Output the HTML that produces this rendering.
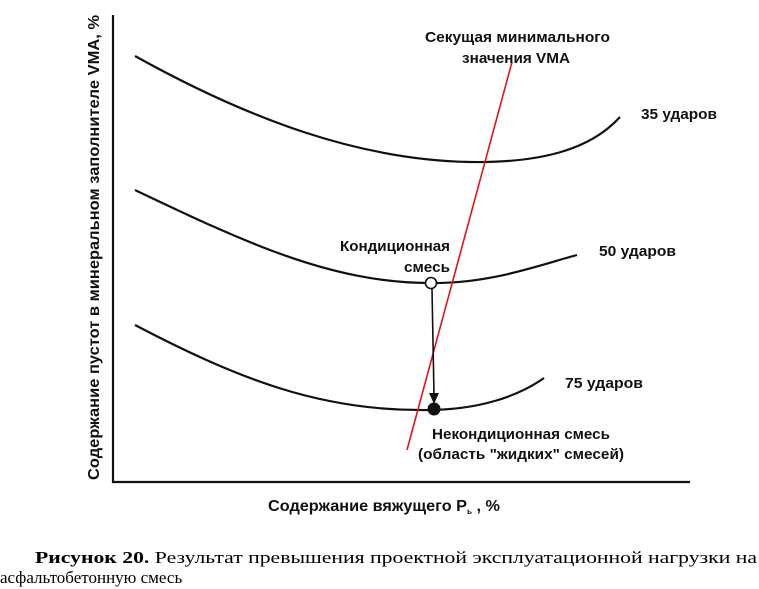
<!DOCTYPE html>
<html><head><meta charset="utf-8"><style>
html,body{margin:0;padding:0;background:#fff;}
svg{display:block;}
</style></head><body>
<svg width="759" height="589" viewBox="0 0 759 589" xmlns="http://www.w3.org/2000/svg">
<g fill="none" stroke="#111" stroke-width="2.2">
<path d="M113 15 L113 482 L690 482"/>
<path d="M135 56 C250 120 360 160 470 162 C540 163 590 150 620 117"/>
<path d="M135 190 C240 240 330 283 430 283 C490 284 540 265 577 255"/>
<path d="M135 325 C240 380 320 410 420 410 C480 411 520 395 544 378"/>
</g>
<line x1="407" y1="450" x2="512" y2="62" stroke="#e0141e" stroke-width="1.6"/>
<line x1="432" y1="289" x2="434" y2="395" stroke="#111" stroke-width="1.6"/>
<path d="M429 393 L434 404 L439 393 Z" fill="#111"/>
<circle cx="431" cy="283" r="5.5" fill="#fff" stroke="#111" stroke-width="1.6"/>
<circle cx="434" cy="409" r="6.5" fill="#111"/>
<g font-family="Liberation Sans, sans-serif" font-weight="bold" font-size="15" fill="#111">
<text x="425" y="42" textLength="185" lengthAdjust="spacingAndGlyphs">Секущая минимального</text>
<text x="462" y="63" textLength="108" lengthAdjust="spacingAndGlyphs">значения VMA</text>
<text x="641" y="119" textLength="76" lengthAdjust="spacingAndGlyphs">35 ударов</text>
<text x="599" y="256" textLength="77" lengthAdjust="spacingAndGlyphs">50 ударов</text>
<text x="565" y="388" textLength="78" lengthAdjust="spacingAndGlyphs">75 ударов</text>
<text x="340" y="251" textLength="110" lengthAdjust="spacingAndGlyphs">Кондиционная</text>
<text x="404" y="272" textLength="46" lengthAdjust="spacingAndGlyphs">смесь</text>
<text x="432" y="439" textLength="178" lengthAdjust="spacingAndGlyphs">Некондиционная смесь</text>
<text x="418" y="459" textLength="206" lengthAdjust="spacingAndGlyphs">(область "жидких" смесей)</text>
<text x="268" y="511" font-size="16" textLength="232" lengthAdjust="spacingAndGlyphs">Содержание вяжущего P<tspan font-size="8" dy="3">ь</tspan><tspan dy="-3"> , %</tspan></text>
<text transform="translate(99,480) rotate(-90)" x="0" y="0" font-size="16" textLength="465" lengthAdjust="spacingAndGlyphs">Содержание пустот в минеральном заполнителе VMA, %</text>
</g>
<g font-family="Liberation Serif, serif" font-size="17" fill="#000">
<text x="35" y="563" textLength="722" lengthAdjust="spacingAndGlyphs"><tspan font-weight="bold">Рисунок 20.</tspan> Результат превышения проектной эксплуатационной нагрузки на</text>
<text x="0" y="583">асфальтобетонную смесь</text>
</g>
</svg>
</body></html>
